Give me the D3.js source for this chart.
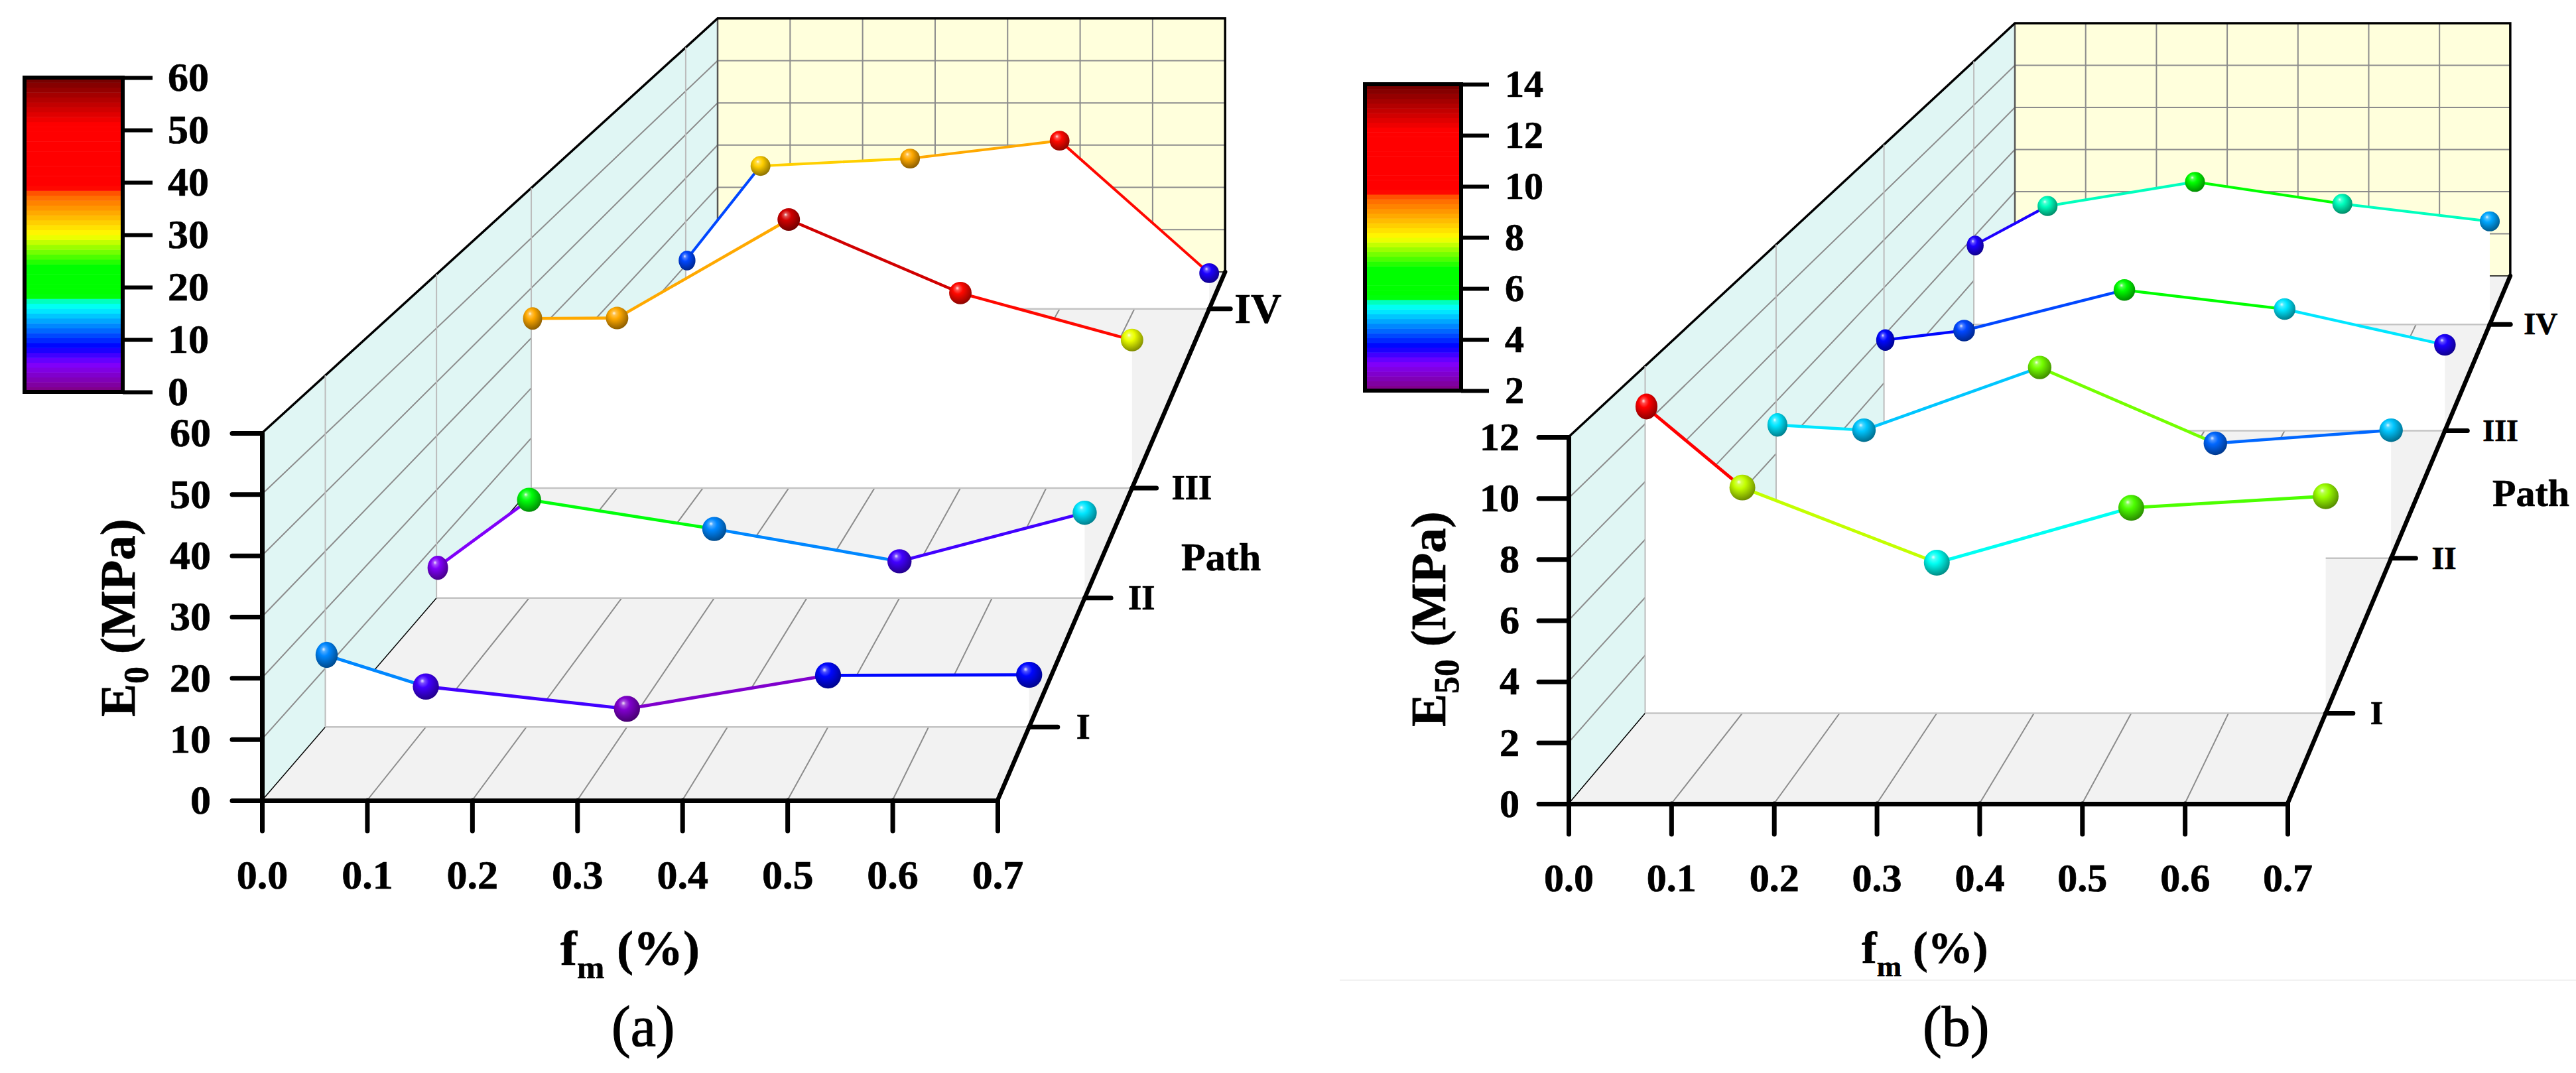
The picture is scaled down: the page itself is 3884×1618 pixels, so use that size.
<!DOCTYPE html>
<html>
<head>
<meta charset="utf-8">
<title>E0 and E50 against fm</title>
<script src="https://cdn.jsdelivr.net/npm/d3@7"></script>
<style>
  html, body { margin: 0; padding: 0; background: #fff; }
  svg { display: block; }
  text { font-family: "Liberation Serif", serif; font-weight: bold; fill: #000; stroke: #000; stroke-width: 0.7px; }
</style>
</head>
<body>
<svg id="chart" width="3884" height="1618"></svg>
<script>
// values
const fmCategories = [0, 0.1, 0.3, 0.5, 0.7];
const pathLabels = ['I', 'II', 'III', 'IV'];
const fmTicks = [0, 0.1, 0.2, 0.3, 0.4, 0.5, 0.6, 0.7];

const e0Ticks = [0, 10, 20, 30, 40, 50, 60];
const e0ColorTicks = [0, 10, 20, 30, 40, 50, 60];
const e0PathI = [12.3, 6.9, 3.1, 8.8, 8.9];
const e0PathII = [5.6, 18.2, 12.8, 6.8, 15.8];
const e0PathIII = [33.9, 34, 53.7, 39, 29.6];
const e0PathIV = [11.1, 32.8, 34.5, 38.6, 8.2];

const e50Ticks = [0, 2, 4, 6, 8, 10, 12];
const e50ColorTicks = [2, 4, 6, 8, 10, 12, 14];
const e50PathI = [10.6, 7.8, 5.2, 7.1, 7.5];
const e50PathII = [5.1, 4.9, 7.3, 4.4, 4.9];
const e50PathIII = [3.8, 4.2, 5.9, 5.1, 3.6];
const e50PathIV = [3.6, 5.4, 6.5, 5.5, 4.7];

// shared rainbow map with flat red and green plateaus, drawn in bands
const rampStops = [0, 0.09, 0.145, 0.27, 0.3, 0.305, 0.4, 0.5, 0.63, 0.65, 0.85, 1];
const rampColors = ['#800080', '#8000ff', '#0000ff', '#00ffff', '#00ff99', '#00ff00', '#00ff00', '#ffff00', '#ff6000', '#ff0000', '#ff0000', '#700000'];
const ramp = d3.scaleLinear().domain(rampStops).range(rampColors).interpolate(d3.interpolateRgb);
const bandCount = 64;
const bands = d3.scaleQuantize().domain([0, 1]).range(d3.range(bandCount).map(i => ramp((i + 0.5) / bandCount)));

const svg = d3.select('#chart');
svg.append('rect').attr('width', 3884).attr('height', 1618).attr('fill', '#fff');
const defs = svg.append('defs');
let ballId = 0;

function ballFill(color) {
  const id = 'ball' + (ballId++);
  const grad = defs.append('radialGradient').attr('id', id)
    .attr('cx', 0.44).attr('cy', 0.38).attr('r', 0.68).attr('fx', 0.36).attr('fy', 0.28);
  const stops = [
    [0, d3.interpolateRgb(color, '#fff')(0.9)],
    [0.13, d3.interpolateRgb(color, '#fff')(0.3)],
    [0.34, color],
    [1, d3.rgb(color).darker(2).formatHex()]
  ];
  stops.forEach(s => grad.append('stop').attr('offset', s[0]).attr('stop-color', s[1]));
  return `url(#${id})`;
}

function styleAxis(g, width) {
  g.selectAll('.domain').attr('stroke', '#000').attr('stroke-width', width).attr('stroke-linecap', 'round');
  g.selectAll('.tick line').attr('stroke', '#000').attr('stroke-width', width).attr('stroke-linecap', 'round');
  g.selectAll('text').attr('font-family', null).attr('font-size', null);
}

function drawPanel(cfg) {
  const g = svg.append('g');
  const xFront = d3.scaleLinear().domain([0, 0.7]).range([cfg.x0, cfg.x1]);
  const yFront = d3.scaleLinear().domain(cfg.yDomain).range([cfg.y0, cfg.yTop]);
  // t runs from 0 at the front edge of the floor to 1 at the back wall
  const k = t => 1 - t * (1 - cfg.backScale);
  const px = (fm, t) => cfg.x0 + (cfg.backLeft - cfg.x0) * t + (xFront(fm) - cfg.x0) * k(t);
  const py = (v, t) => cfg.y0 - (cfg.y0 - cfg.backBottom) * t - (cfg.y0 - yFront(v)) * k(t);
  const pathT = d3.scaleOrdinal().domain(pathLabels).range(cfg.pathDepth);
  const line = d3.line();
  const vMax = cfg.yDomain[1];

  // walls and floor
  g.append('path').attr('fill', '#f2f2f2')
    .attr('d', line([[px(0, 0), py(0, 0)], [px(0.7, 0), py(0, 0)], [px(0.7, 1), py(0, 1)], [px(0, 1), py(0, 1)]]) + 'Z');
  g.append('path').attr('fill', '#e0f6f4')
    .attr('d', line([[px(0, 0), py(0, 0)], [px(0, 0), py(vMax, 0)], [px(0, 1), py(vMax, 1)], [px(0, 1), py(0, 1)]]) + 'Z');
  g.append('path').attr('fill', '#ffffdc')
    .attr('d', line([[px(0, 1), py(0, 1)], [px(0, 1), py(vMax, 1)], [px(0.7, 1), py(vMax, 1)], [px(0.7, 1), py(0, 1)]]) + 'Z');

  const gridColor = '#8c8c8c';
  const inner = cfg.yTicks.filter(v => v > 0 && v < vMax);
  inner.forEach(v => {
    g.append('path').attr('d', line([[px(0, 0), py(v, 0)], [px(0, 1), py(v, 1)], [px(0.7, 1), py(v, 1)]]))
      .attr('fill', 'none').attr('stroke', gridColor).attr('stroke-width', 2);
  });
  fmTicks.filter(d => d > 0 && d < 0.7).forEach(d => {
    g.append('path').attr('d', line([[px(d, 0), py(0, 0)], [px(d, 1), py(0, 1)], [px(d, 1), py(vMax, 1)]]))
      .attr('fill', 'none').attr('stroke', gridColor).attr('stroke-width', 2);
  });

  // thin black frame of the box
  g.append('path').attr('d', line([[px(0, 0), py(0, 0)], [px(0, 1), py(0, 1)], [px(0.7, 1), py(0, 1)]]))
    .attr('fill', 'none').attr('stroke', '#000').attr('stroke-width', 1.5);
  g.append('path').attr('d', line([[px(0, 1), py(0, 1)], [px(0, 1), py(vMax, 1)]]))
    .attr('fill', 'none').attr('stroke', '#555').attr('stroke-width', 2.5);
  g.append('path').attr('d', line([[px(0, 0), py(vMax, 0)], [px(0, 1), py(vMax, 1)], [px(0.7, 1), py(vMax, 1)], [px(0.7, 1), py(0, 1)]]))
    .attr('fill', 'none').attr('stroke', '#000').attr('stroke-width', 3.5);

  // series from back to front: each hides what lies behind it
  d3.range(pathLabels.length - 1, -1, -1).forEach(i => {
    const label = pathLabels[i];
    const t = pathT(label);
    const values = cfg.series[i];
    const rows = values.map((v, j) => ({ fm: fmCategories[j], v }));
    const area = d3.area().x(d => px(d.fm, t)).y0(py(0, t)).y1(d => py(d.v, t));

    g.append('path').attr('d', area(rows)).attr('fill', '#fff');
    g.append('path').attr('d', line([[px(0, t), py(0, t)], [px(0.7, t), py(0, t)]]))
      .attr('stroke', '#c4c4c4').attr('stroke-width', 2.5);
    g.append('path').attr('d', line([[px(0, t), py(0, t)], [px(0, t), py(vMax, t)]]))
      .attr('stroke', '#bcbcbc').attr('stroke-width', 2);

    // a segment takes the colour of the point it starts from
    d3.pairs(rows).forEach(([a, b]) => {
      g.append('path').attr('d', line([[px(a.fm, t), py(a.v, t)], [px(b.fm, t), py(b.v, t)]]))
        .attr('fill', 'none').attr('stroke', bands(cfg.colorScale(a.v)))
        .attr('stroke-width', 5 - t).attr('stroke-linecap', 'round');
    });

    const r = 20.5 - 6 * t;
    g.selectAll(null).data(rows).join('ellipse')
      .attr('cx', d => px(d.fm, t) + (d.fm === 0 ? 2 : 0))
      .attr('cy', d => py(d.v, t))
      .attr('rx', d => d.fm === 0 ? r * 0.85 : r)
      .attr('ry', r)
      .attr('fill', d => ballFill(bands(cfg.colorScale(d.v))));
  });

  // depth axis with the path labels
  g.append('path').attr('d', line([[px(0.7, 0), py(0, 0)], [px(0.7, 1), py(0, 1)]]))
    .attr('stroke', '#000').attr('stroke-width', 6.5).attr('stroke-linecap', 'round');
  pathLabels.forEach((label, i) => {
    const t = pathT(label);
    const tickEnd = px(0.7, t) + cfg.pathTick * k(t);
    g.append('path').attr('d', line([[px(0.7, t), py(0, t)], [tickEnd, py(0, t)]]))
      .attr('stroke', '#000').attr('stroke-width', 7).attr('stroke-linecap', 'round');
    g.append('text').attr('x', tickEnd + cfg.pathLabelGap[i]).attr('y', py(0, t)).attr('dy', '0.33em')
      .attr('font-size', cfg.pathLabelSize[i]).text(label);
  });
  g.append('text').attr('x', cfg.pathTitle[0]).attr('y', cfg.pathTitle[1]).attr('font-size', cfg.pathTitle[2]).text('Path');

  // front axes
  const xAxisG = g.append('g').attr('transform', `translate(0,${cfg.y0})`)
    .call(d3.axisBottom(xFront).tickValues(fmTicks).tickFormat(d3.format('.1f')).tickSize(46).tickSizeOuter(0).tickPadding(43));
  styleAxis(xAxisG, 7);
  xAxisG.selectAll('text').attr('font-size', cfg.tickFont);
  const yAxisG = g.append('g').attr('transform', `translate(${cfg.x0},0)`)
    .call(d3.axisLeft(yFront).tickValues(cfg.yTicks).tickSize(45).tickSizeOuter(0).tickPadding(cfg.yPadding));
  styleAxis(yAxisG, 7);
  yAxisG.selectAll('text').attr('font-size', cfg.tickFont);

  // colour bar
  const cb = cfg.bar;
  const barScale = d3.scaleLinear().domain(cfg.colorDomain).range([cb.bottom, cb.top]);
  const barG = g.append('g');
  d3.range(bandCount).forEach(i => {
    const a = cfg.colorDomain[0] + (cfg.colorDomain[1] - cfg.colorDomain[0]) * i / bandCount;
    const b = cfg.colorDomain[0] + (cfg.colorDomain[1] - cfg.colorDomain[0]) * (i + 1) / bandCount;
    barG.append('rect').attr('x', cb.left).attr('width', cb.right - cb.left)
      .attr('y', barScale(b)).attr('height', barScale(a) - barScale(b) + 0.5)
      .attr('fill', bands((i + 0.5) / bandCount));
  });
  barG.append('rect').attr('x', cb.left).attr('y', cb.top)
    .attr('width', cb.right - cb.left).attr('height', cb.bottom - cb.top)
    .attr('fill', 'none').attr('stroke', '#000').attr('stroke-width', 6);
  const barAxis = barG.append('g').attr('transform', `translate(${cb.right},0)`)
    .call(d3.axisRight(barScale).tickValues(cfg.colorTicks).tickSize(cb.tick).tickSizeOuter(0).tickPadding(cb.padding));
  styleAxis(barAxis, 6);
  barAxis.selectAll('.domain').remove();
  barAxis.selectAll('.tick line').attr('stroke-linecap', 'butt');
  barAxis.selectAll('text').attr('font-size', cfg.barFont);

  // titles
  const yt = g.append('text').attr('transform', `translate(${cfg.yTitle[0]},${cfg.yTitle[1]}) rotate(-90)`).attr('font-size', 75);
  yt.append('tspan').text('E');
  yt.append('tspan').attr('font-size', 52).attr('dy', 20).text(cfg.ySub);
  yt.append('tspan').attr('dy', -20).text(' (MPa)');
  const xt = g.append('text').attr('x', cfg.xTitle[0]).attr('y', cfg.xTitle[1]).attr('font-size', cfg.xTitle[2]);
  xt.append('tspan').text('f');
  xt.append('tspan').attr('font-size', cfg.xTitle[2] * 0.66).attr('dy', 20).text('m');
  xt.append('tspan').attr('dy', -20).text(' (%)');
  g.append('text').attr('x', cfg.panelLabel[0]).attr('y', cfg.panelLabel[1])
    .attr('font-size', 86).style('font-weight', 'normal').style('stroke-width', '1.2px').text(cfg.panelLabel[2]);
}

drawPanel({
  x0: 395, x1: 1504, y0: 1207, yTop: 653, backLeft: 1082, backBottom: 410, backScale: 0.69,
  yDomain: [0, 60], yTicks: e0Ticks, yPadding: 32, tickFont: 62,
  pathDepth: [0.139, 0.383, 0.591, 0.93],
  series: [e0PathI, e0PathII, e0PathIII, e0PathIV],
  colorDomain: [0, 60], colorTicks: e0ColorTicks,
  colorScale: d3.scaleLinear().domain([0, 60]).range([0, 0.999]),
  bar: { left: 37, right: 185, top: 117, bottom: 591, tick: 45, padding: 23 }, barFont: 62,
  pathTick: 45, pathLabelGap: [28, 26, 23, 6], pathLabelSize: [54, 52, 52, 64],
  pathTitle: [1781, 860, 60],
  yTitle: [203, 1081], ySub: '0', xTitle: [845, 1455, 75], panelLabel: [922, 1577, '(a)']
});

drawPanel({
  x0: 2365, x1: 3449, y0: 1212, yTop: 659, backLeft: 3038, backBottom: 416, backScale: 0.689,
  yDomain: [0, 12], yTicks: e50Ticks, yPadding: 29, tickFont: 60,
  pathDepth: [0.1716, 0.465, 0.7067, 0.908],
  series: [e50PathI, e50PathII, e50PathIII, e50PathIV],
  colorDomain: [2, 14], colorTicks: e50ColorTicks,
  colorScale: d3.scaleLinear().domain([2, 14]).range([0, 0.999]),
  bar: { left: 2058, right: 2203, top: 127, bottom: 589, tick: 42, padding: 24 }, barFont: 58,
  pathTick: 43.5, pathLabelGap: [26, 24, 23, 20], pathLabelSize: [50, 48, 46, 46],
  pathTitle: [3758, 763, 58],
  yTitle: [2179, 1096], ySub: '50', xTitle: [2807, 1452, 68], panelLabel: [2899, 1577, '(b)']
});

// faint rule under the right panel
svg.append('line').attr('x1', 2020).attr('x2', 3884).attr('y1', 1478).attr('y2', 1478)
  .attr('stroke', '#eeeeee').attr('stroke-width', 1.5);
</script>
</body>
</html>
